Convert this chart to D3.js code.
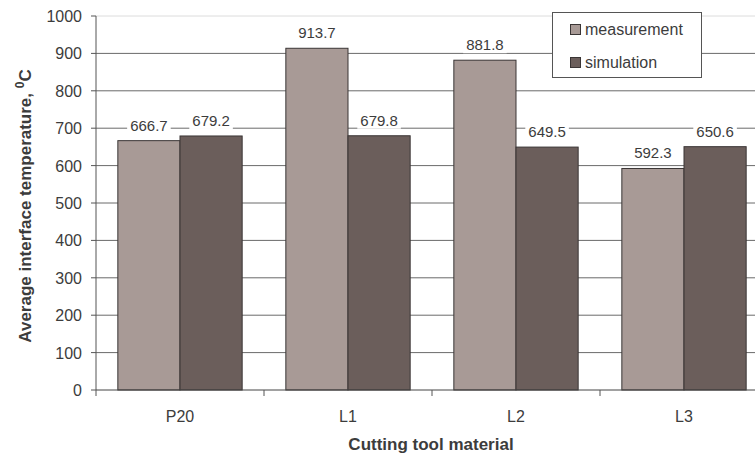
<!DOCTYPE html>
<html><head><meta charset="utf-8">
<script src="https://cdn.jsdelivr.net/npm/d3@7"></script>
<style>body{margin:0;background:#fff}svg{display:block;font-family:"Liberation Sans",Arial,sans-serif}</style>
</head><body>
<svg id="c" width="755" height="457"></svg>
<script>
const categories = ["P20", "L1", "L2", "L3"];
const seriesNames = ["measurement", "simulation"];
const measurement = [666.7, 913.7, 881.8, 592.3];
const simulation = [679.2, 679.8, 649.5, 650.6];
const yTicks = [0, 100, 200, 300, 400, 500, 600, 700, 800, 900, 1000];
const colors = {measurement: "#a89a96", simulation: "#6b5e5b"};

const svg = d3.select("#c");
const plotLeft = 96, plotTop = 16, plotBottom = 390, plotRight = 96 + 4 * 168;
const y = d3.scaleLinear().domain([0, 1000]).range([plotBottom, plotTop]);
const x0 = d3.scaleBand().domain(categories).range([plotLeft, plotRight]).paddingInner(0.26).paddingOuter(0.13);
const x1 = d3.scaleBand().domain(seriesNames).range([0, x0.bandwidth()]);

// gridlines
svg.append("g").selectAll("line").data(yTicks.filter(d => d > 0)).join("line")
  .attr("x1", plotLeft).attr("x2", 755).attr("y1", d => y(d)).attr("y2", d => y(d))
  .attr("stroke", d => d === 1000 ? "#dcdcdc" : "#6a6a6a").attr("stroke-width", 1);

const data = categories.map((c, i) => ({cat: c, vals: [
  {s: "measurement", v: measurement[i]}, {s: "simulation", v: simulation[i]}]}));

// bars
const g = svg.append("g").selectAll("g").data(data).join("g")
  .attr("transform", d => `translate(${x0(d.cat)},0)`);
g.selectAll("rect").data(d => d.vals).join("rect")
  .attr("x", d => x1(d.s)).attr("width", x1.bandwidth())
  .attr("y", d => y(d.v)).attr("height", d => y(0) - y(d.v))
  .attr("fill", d => colors[d.s]).attr("stroke", "#3a3535").attr("stroke-width", 1);

// labels with white backing
g.each(function(d) {
  const gg = d3.select(this);
  d.vals.forEach(v => {
    const cx = x1(v.s) + x1.bandwidth() / 2;
    const by = y(v.v) - 10;
    const t = gg.append("text").attr("x", cx).attr("y", by).attr("text-anchor", "middle")
      .attr("font-size", 15).attr("fill", "#3c3c3c").text(v.v.toFixed(1));
    const bb = t.node().getBBox();
    gg.insert("rect", "text").attr("x", bb.x - 3).attr("y", bb.y).attr("width", bb.width + 6)
      .attr("height", bb.height).attr("fill", "#fff");
  });
});

// y axis
const ya = svg.append("g");
ya.append("line").attr("x1", plotLeft).attr("x2", plotLeft).attr("y1", plotTop).attr("y2", plotBottom).attr("stroke", "#555");
ya.selectAll("line.t").data(yTicks).join("line").attr("class", "t")
  .attr("x1", plotLeft - 5).attr("x2", plotLeft).attr("y1", d => y(d)).attr("y2", d => y(d)).attr("stroke", "#555");
ya.selectAll("text").data(yTicks).join("text")
  .attr("x", 82).attr("y", d => y(d) + 6).attr("text-anchor", "end")
  .attr("font-size", 16).attr("fill", "#3c3c3c").text(d => d);

// x axis
const xa = svg.append("g");
xa.append("line").attr("x1", plotLeft).attr("x2", 755).attr("y1", plotBottom).attr("y2", plotBottom).attr("stroke", "#444");
const bounds = categories.map(c => x0(c) - x0.step() * x0.paddingOuter());
xa.selectAll("line.t").data(bounds).join("line").attr("class", "t")
  .attr("x1", d => d).attr("x2", d => d).attr("y1", plotBottom).attr("y2", plotBottom + 6).attr("stroke", "#555");
xa.selectAll("text").data(categories).join("text")
  .attr("x", d => x0(d) + x0.bandwidth() / 2).attr("y", 422).attr("text-anchor", "middle")
  .attr("font-size", 16).attr("fill", "#3c3c3c").text(d => d);

// titles
svg.append("text").attr("x", 431).attr("y", 450).attr("text-anchor", "middle")
  .attr("font-size", 17).attr("font-weight", "bold").attr("fill", "#3c3c3c").text("Cutting tool material");
const yt = svg.append("text").attr("transform", "translate(31,206) rotate(-90)").attr("text-anchor", "middle")
  .attr("font-size", 17).attr("font-weight", "bold").attr("fill", "#3c3c3c");
yt.append("tspan").text("Average interface temperature, ");
yt.append("tspan").attr("dy", -7).attr("font-size", 12).text("0");
yt.append("tspan").attr("dy", 7).text("C");

// legend
const lg = svg.append("g");
lg.append("rect").attr("x", 552.5).attr("y", 12.5).attr("width", 149).attr("height", 65)
  .attr("fill", "#fff").attr("stroke", "#555");
seriesNames.forEach((s, i) => {
  const yy = 24 + i * 33;
  lg.append("rect").attr("x", 570.5).attr("y", yy + 0.5).attr("width", 10).attr("height", 10)
    .attr("fill", colors[s]).attr("stroke", "#3a3535");
  lg.append("text").attr("x", 585).attr("y", yy + 11).attr("font-size", 16).attr("fill", "#3c3c3c").text(s);
});
</script>
</body></html>
